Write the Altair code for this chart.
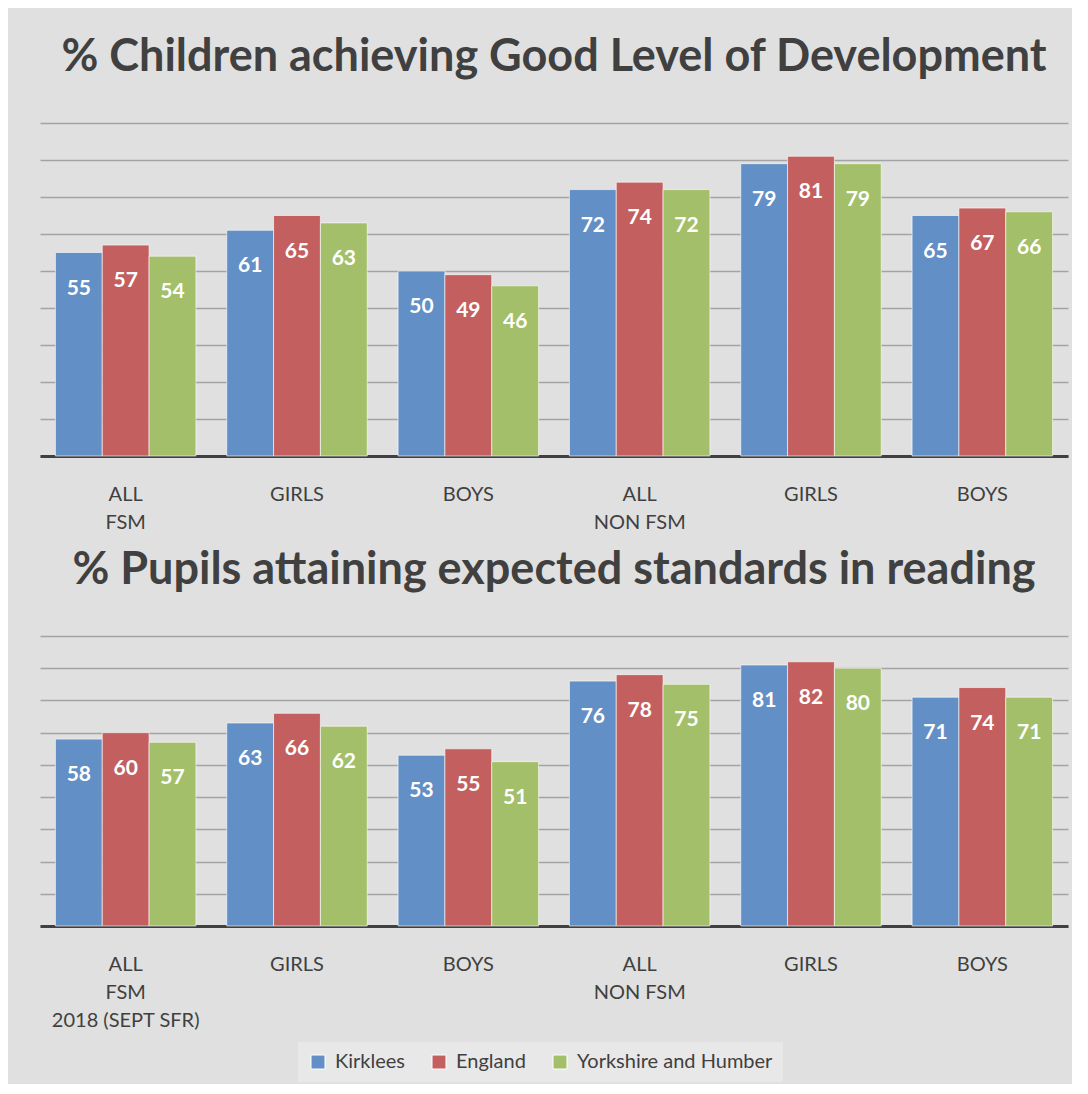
import altair as alt
import pandas as pd

series = ["Kirklees", "England", "Yorkshire and Humber"]
colors = ["#628fc5", "#c3605f", "#a3bf69"]
categories = ["ALL FSM", "GIRLS FSM", "BOYS FSM", "ALL NON FSM", "GIRLS NON FSM", "BOYS NON FSM"]

top_title = "% Children achieving Good Level of Development"
top_kirklees = [55, 61, 50, 72, 79, 65]
top_england = [57, 65, 49, 74, 81, 67]
top_yh = [54, 63, 46, 72, 79, 66]
top_labels = [["ALL", "FSM"], ["GIRLS"], ["BOYS"], ["ALL", "NON FSM"], ["GIRLS"], ["BOYS"]]

bot_title = "% Pupils attaining expected standards in reading"
bot_kirklees = [58, 63, 53, 76, 81, 71]
bot_england = [60, 66, 55, 78, 82, 74]
bot_yh = [57, 62, 51, 75, 80, 71]
bot_labels = [["ALL", "FSM", "2018 (SEPT SFR)"], ["GIRLS"], ["BOYS"], ["ALL", "NON FSM"], ["GIRLS"], ["BOYS"]]

FONT = "Lato"
TEXT = "#404040"


def frame(vals):
    rows = []
    for s, v in zip(series, vals):
        for c, x in zip(categories, v):
            rows.append({"category": c, "series": s, "value": x})
    return pd.DataFrame(rows)


def label_expr(labels):
    parts = []
    for c, lab in zip(categories, labels):
        arr = "[" + ",".join("'" + l + "'" for l in lab) + "]"
        parts.append(f"datum.value == '{c}' ? {arr}")
    return " : ".join(parts) + " : datum.label"


def panel(title, vals, labels, height, title_offset, legend):
    df = frame(vals)
    x = alt.X("category:N", sort=categories, title=None,
              scale=alt.Scale(paddingInner=0.18, paddingOuter=0.09),
              axis=alt.Axis(labelAngle=0, labelFont=FONT, labelFontSize=20,
                            labelColor=TEXT, labelPadding=28, labelLineHeight=28,
                            ticks=False, tickSize=0, domainColor=TEXT, domainWidth=3,
                            labelExpr=label_expr(labels), grid=False))
    y = alt.Y("value:Q", title=None, scale=alt.Scale(domain=[0, 90], nice=False),
              axis=alt.Axis(values=list(range(0, 91, 10)), tickCount=20, labels=False,
                            ticks=False, domain=False, grid=True,
                            gridColor="#a3a3a3", gridWidth=1.6))
    if legend:
        leg = alt.Legend(title=None, orient="none", legendX=258, legendY=406,
                         direction="horizontal", symbolType="square", symbolSize=196,
                         labelFont=FONT, labelFontSize=20, labelColor=TEXT,
                         labelLimit=400, columnPadding=24, labelOffset=7,
                         fillColor="#e8e8e8", padding=10, symbolStrokeWidth=1,
                         symbolStrokeColor="#ffffff")
    else:
        leg = None
    color = alt.Color("series:N", sort=series,
                      scale=alt.Scale(domain=series, range=colors), legend=leg)
    bars = alt.Chart(df).mark_bar(stroke="#ffffff", strokeOpacity=0.6, strokeWidth=1).encode(
        x=x, y=y, color=color,
        xOffset=alt.XOffset("series:N", sort=series, scale=alt.Scale(paddingInner=0)))
    text = alt.Chart(df).mark_text(font=FONT, fontSize=21, fontWeight="bold",
                                   color="white", baseline="middle", dy=36).encode(
        x=alt.X("category:N", sort=categories),
        xOffset=alt.XOffset("series:N", sort=series),
        y="value:Q", text="value:Q")
    return alt.layer(bars, text).properties(
        width=1028, height=height,
        title=alt.TitleParams(title, font=FONT, fontSize=45, fontWeight="bold",
                              color=TEXT, anchor="middle", offset=title_offset))


top = panel(top_title, [top_kirklees, top_england, top_yh], top_labels, 333, 43, False)
bot = panel(bot_title, [bot_kirklees, bot_england, bot_yh], bot_labels, 290, 43, True)

chart = alt.vconcat(top, bot, spacing=16).properties(
    background="#e0e0e0",
    padding={"left": 32, "top": 27, "right": 4, "bottom": 2},
).configure_view(stroke=None).resolve_scale(color="independent")

chart.save("out.html", embed_options={"renderer": "svg", "actions": False})
